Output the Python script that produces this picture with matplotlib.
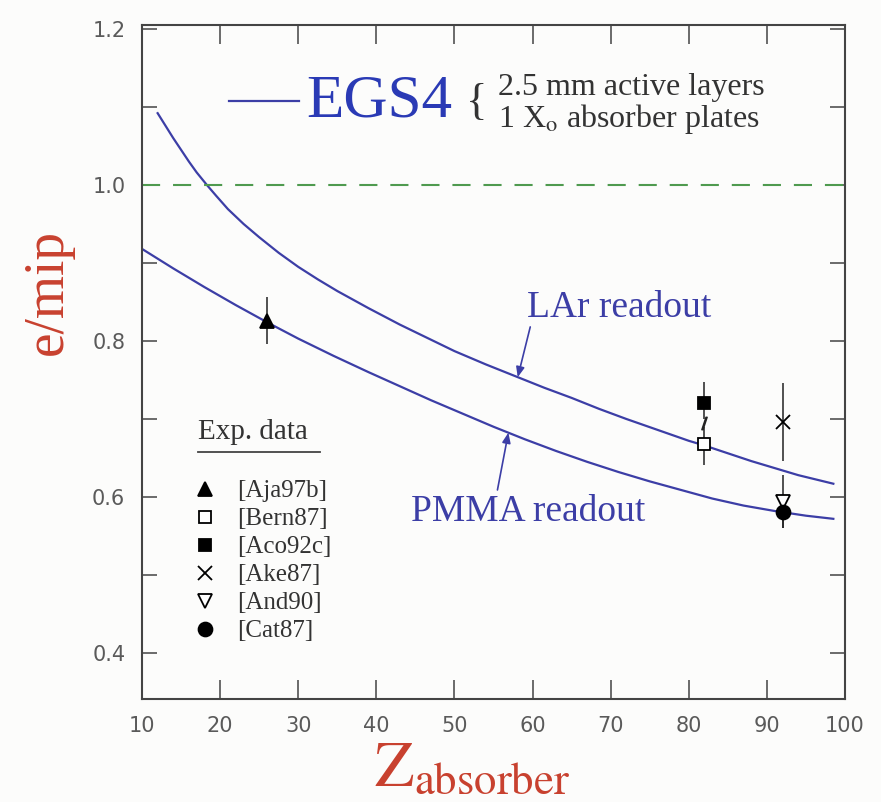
import matplotlib
matplotlib.use('Agg')
import matplotlib.pyplot as plt
from matplotlib.lines import Line2D
import numpy as np

plt.rcParams['font.family'] = ['Liberation Serif', 'DejaVu Serif']
plt.rcParams['mathtext.fontset'] = 'stix'

# EGS4 curves
z_lar = [12, 13, 14, 15, 16, 17, 18.3, 19.5, 21, 23, 25, 27.5, 30, 32.5, 35, 39, 43,
         46.5, 50, 54, 58, 61.5, 65, 68.5, 72, 76, 80, 82, 85, 88, 91, 94, 98.5]
emip_lar = [1.092, 1.076, 1.060, 1.045, 1.030, 1.016, 1.000, 0.986, 0.969, 0.950,
            0.933, 0.913, 0.895, 0.879, 0.864, 0.842, 0.821, 0.804, 0.787, 0.770,
            0.754, 0.740, 0.727, 0.713, 0.700, 0.686, 0.672, 0.666, 0.656, 0.646,
            0.637, 0.628, 0.617]
z_pmma = [10, 14, 18, 22, 26, 30, 34.5, 39, 43, 47, 51, 55, 59, 63, 67, 71, 75, 79,
          83, 87, 91, 95, 98.5]
emip_pmma = [0.918, 0.893, 0.869, 0.846, 0.824, 0.803, 0.781, 0.760, 0.742, 0.724,
             0.707, 0.690, 0.674, 0.659, 0.645, 0.632, 0.620, 0.609, 0.598, 0.589,
             0.582, 0.576, 0.572]

# experimental points
refs = ['[Aja97b]', '[Bern87]', '[Aco92c]', '[Ake87]', '[And90]', '[Cat87]']
z_exp = [26, 82, 82, 92, 92, 92]
emip_exp = [0.826, 0.668, 0.721, 0.696, 0.594, 0.581]
err_lo = [0.030, 0.027, 0.021, 0.050, 0.034, 0.021]
err_hi = [0.030, 0.022, 0.026, 0.050, 0.034, 0.000]
markers = ['^', 's', 's', 'x', 'v', 'o']
filled = [True, False, True, False, False, True]
msizes = [10, 9, 8.5, 10, 10, 10]

blue = '#3c3ea6'
red = '#c8412f'

fig = plt.figure(figsize=(8.81, 8.02), dpi=100, facecolor='#fcfcfb')
ax = fig.add_axes([0.1612, 0.1284, 0.798, 0.8404])
ax.set_facecolor('#fcfcfb')

ax.plot(z_lar, emip_lar, color=blue, lw=1.6)
ax.plot(z_pmma, emip_pmma, color=blue, lw=1.6)
ax.axhline(1.0, color='#4f9a4f', lw=1.5, ls=(0, (8.7, 6.2)))

ax.errorbar(z_exp, emip_exp, yerr=[err_lo, err_hi], fmt='none', ecolor='#222222',
            elinewidth=1.1, capsize=0)
handles = []
for z, e, m, f, ms in zip(z_exp, emip_exp, markers, filled, msizes):
    h, = ax.plot([z], [e], linestyle='none', marker=m, ms=ms,
                 mfc='black' if f else 'white', mec='black', mew=1.3, zorder=5)
    handles.append(h)
# broken error bar between the two Pb points
ax.plot([z_exp[1]], [(emip_exp[1] + emip_exp[2]) / 2], marker='$/$', ms=9,
        color='#222222', linestyle='none')

ax.set_xlim(10, 100)
ax.set_ylim(0.341, 1.205)
ax.set_xticks(np.arange(10, 101, 10))
ax.set_yticks([0.4, 0.6, 0.8, 1.0, 1.2])
ax.set_yticklabels(['0.4', '0.6', '0.8', '1.0', '1.2'])
ax.set_yticks([0.5, 0.7, 0.9, 1.1], minor=True)
ax.tick_params(axis='both', which='both', direction='in', top=True, right=True,
               colors='#444444', width=1.1, labelcolor='#5a5a5a')
ax.tick_params(axis='x', which='both', length=14, pad=12, labelsize=15)
ax.tick_params(axis='y', which='both', length=11, pad=12, labelsize=15)
for lbl in ax.get_xticklabels() + ax.get_yticklabels():
    lbl.set_family('DejaVu Sans')
for sp in ax.spines.values():
    sp.set_color('#444444')
    sp.set_linewidth(1.5)

# EGS4 key
ax.add_line(Line2D([0.124, 0.223], [0.887, 0.887], transform=ax.transAxes,
                   color=blue, lw=1.6))
ax.text(0.233, 0.886, 'EGS4', transform=ax.transAxes, fontsize=44, color='#2a3ab5',
        va='center', ha='left')
ax.text(0.461, 0.884, '{', transform=ax.transAxes, fontsize=32, color='#333333',
        va='center', ha='left', fontweight='light')
ax.text(0.506, 0.907, '2.5 mm active layers', transform=ax.transAxes, fontsize=23,
        color='#333333', va='center', ha='left')
ax.text(0.506, 0.860, r'1 X$_{\rm o}$ absorber plates', transform=ax.transAxes,
        fontsize=23, color='#333333', va='center', ha='left')

# curve labels
arrow = dict(arrowstyle='-|>,head_length=0.6,head_width=0.25', color=blue, lw=1.2,
             shrinkA=0, shrinkB=0)
ax.text(71.1, 0.842, 'LAr readout', fontsize=27, color=blue, ha='center', va='center')
ax.annotate('', xy=(58.1, np.interp(58.1, z_lar, emip_lar)), xytext=(59.7, 0.818),
            arrowprops=arrow)
ax.text(59.4, 0.581, 'PMMA readout', fontsize=27, color=blue, ha='center', va='center')
ax.annotate('', xy=(56.9, np.interp(56.9, z_pmma, emip_pmma)), xytext=(55.5, 0.609),
            arrowprops=arrow)

# experimental data key
ax.text(0.080, 0.396, 'Exp. data', transform=ax.transAxes, fontsize=21,
        color='#333333', va='center', ha='left')
ax.add_line(Line2D([0.080, 0.253], [0.366, 0.366], transform=ax.transAxes,
                   color='#444444', lw=1.3))
leg = ax.legend(handles, refs, loc='upper left', bbox_to_anchor=(0.0715, 0.325),
                frameon=False, fontsize=18, handlelength=1.0, handletextpad=0.8,
                labelspacing=0.22, borderpad=0, borderaxespad=0)
for t in leg.get_texts():
    t.set_color('#333333')

fig.text(0.054, 1 - 292 / 802, 'e/mip', rotation=90, fontsize=40, color=red,
         ha='center', va='center')
fig.text(0.536, 0.021, r'$\mathrm{Z}_{\mathrm{absorber}}$', fontsize=46, color=red,
         ha='center', va='baseline')

fig.savefig('out.png', dpi=100, facecolor=fig.get_facecolor())
